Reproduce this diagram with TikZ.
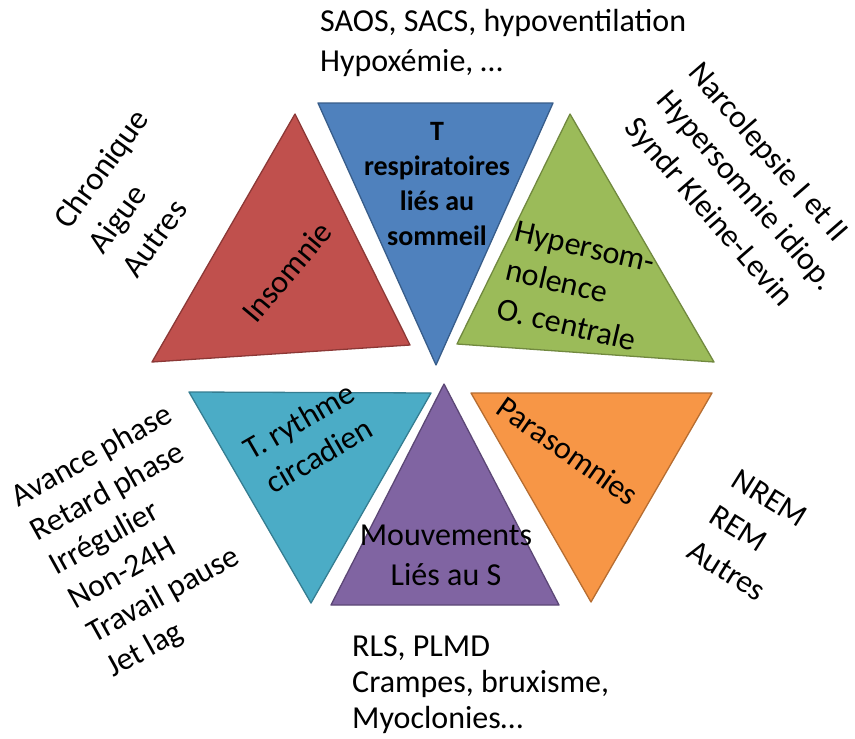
\documentclass[tikz,border=0pt]{standalone}
\usepackage{fontspec}
\setmainfont{Carlito}
\definecolor{redF}{HTML}{C0504D}\definecolor{redD}{HTML}{8C3836}
\definecolor{bluF}{HTML}{4F81BD}\definecolor{bluD}{HTML}{385D8A}
\definecolor{grnF}{HTML}{9BBB59}\definecolor{grnD}{HTML}{71893F}
\definecolor{cyaF}{HTML}{4BACC6}\definecolor{cyaD}{HTML}{357D91}
\definecolor{purF}{HTML}{8064A2}\definecolor{purD}{HTML}{5C4776}
\definecolor{oraF}{HTML}{F79646}\definecolor{oraD}{HTML}{B66D31}
\begin{document}
\begin{tikzpicture}[x=1pt,y=-1pt]
\tikzset{
  tri/.style={line width=1.3pt, line join=round},
  lbl/.style={inner sep=0pt, font=\fontsize{32}{40}\selectfont, align=center},
  side/.style={inner sep=0pt, font=\fontsize{32.5}{42}\selectfont, align=left},
}
\useasboundingbox (0,0) rectangle (855,739);
\fill[white] (0,0) rectangle (855,739);
% triangles
\draw[tri, fill=bluF, draw=bluD] (318,103) -- (553,103) -- (436,365) -- cycle;
\draw[tri, fill=redF, draw=redD] (295,114) -- (152,362) -- (410,345) -- cycle;
\draw[tri, fill=grnF, draw=grnD] (570,114) -- (457,344) -- (714,362) -- cycle;
\draw[tri, fill=cyaF, draw=cyaD] (189,392) -- (431,393) -- (311,603) -- cycle;
\draw[tri, fill=purF, draw=purD] (444,384) -- (331,605) -- (559,605) -- cycle;
\draw[tri, fill=oraF, draw=oraD] (471,393) -- (712,393) -- (591,602) -- cycle;
% labels in triangles
\node[lbl, rotate=50] (insomnie) at (287,272) {Insomnie};
\node[lbl, font=\fontsize{28}{35}\selectfont\bfseries] (resp) at (437,184) {T\\respiratoires\\liés au\\sommeil};
\node[lbl, align=left, rotate=-13] (hyper) at (576,286) {Hypersom-\\nolence\\O. centrale};
\node[lbl, rotate=30] (circ) at (309,438) {T. rythme\\circadien};
\node[lbl, rotate=-35] (para) at (568,451) {Parasomnies};
\node[lbl] (mouv) at (446,555) {Mouvements\\Liés au S};
% lists outside
\node[side, font=\fontsize{32}{40}\selectfont, anchor=west] (respList) at (320,43) {SAOS, SACS, hypoventilation\\Hypoxémie, …};
\node[side, rotate=54] (insList) at (135,193) {Chronique\\Aigue\\Autres};
\node[side, font=\fontsize{32}{42}\selectfont, rotate=-49] (hypList) at (745,191) {Narcolepsie I et II\\Hypersomnie idiop.\\Syndr Kleine-Levin};
\node[side, font=\fontsize{32}{39}\selectfont, rotate=29] (circList) at (140,542) {Avance phase\\Retard phase\\Irrégulier\\Non-24H\\Travail pause\\Jet lag};
\node[side, font=\fontsize{32}{42}\selectfont, rotate=-32] (paraList) at (749,535) {NREM\\REM\\Autres};
\node[side, font=\fontsize{32}{36}\selectfont, anchor=west] (mouvList) at (352,685) {RLS, PLMD\\Crampes, bruxisme,\\Myoclonies…};
\end{tikzpicture}
\end{document}
